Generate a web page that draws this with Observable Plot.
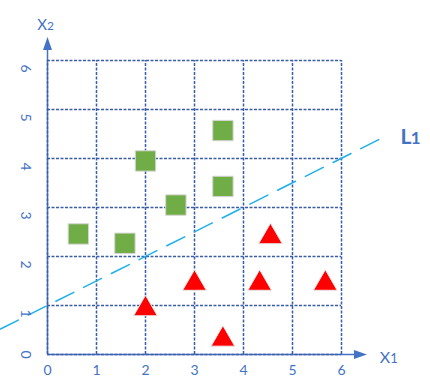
<!DOCTYPE html>
<html><head><meta charset="utf-8">
<script src="https://cdn.jsdelivr.net/npm/d3@7"></script>
<script src="https://cdn.jsdelivr.net/npm/@observablehq/plot@0.6"></script>
<style>html,body{margin:0;padding:0;background:#fff}</style>
</head><body><div id="chart"></div>
<script>
// ---- data ----
const ticks = [0, 1, 2, 3, 4, 5, 6];
const tickLabels = ["0", "1", "2", "3", "4", "5", "6"];
const squaresX = [0.63, 1.58, 2.0, 2.62, 3.58, 3.58];
const squaresY = [2.46, 2.27, 3.95, 3.05, 3.43, 4.57];
const trianglesX = [2.0, 3.0, 4.33, 5.67, 4.55, 3.58];
const trianglesY = [0.93, 1.45, 1.45, 1.45, 2.40, 0.31];
const lineL1X = [-0.96, 6.93];
const lineL1Y = [0.52, 4.47];
const axisTipX = 6.52; // end of x1 axis arrow
const axisTipY = 6.48; // end of x2 axis arrow

const tickData = ticks.map((v, i) => ({v, label: tickLabels[i]}));
const squares = squaresX.map((x, i) => ({x, y: squaresY[i]}));
const triangles = trianglesX.map((x, i) => ({x, y: trianglesY[i]}));
const l1 = lineL1X.map((x, i) => ({x, y: lineL1Y[i]}));

const blue = "#4472C4";
const gridColor = "#3A5DA8";
const font = "Lato, 'Open Sans', sans-serif";

// arrowhead symbol: tip at origin, pointing up
const arrowHead = {
  draw(ctx) {
    ctx.moveTo(0, 0);
    ctx.lineTo(-4.5, 13);
    ctx.lineTo(4.5, 13);
    ctx.closePath();
  }
};

const chart = Plot.plot({
  width: 430,
  height: 388,
  margin: 0,
  style: {background: "white", fontFamily: font},
  x: {domain: [-47 / 49, 383 / 49], range: [0, 430], axis: null},
  y: {domain: [-34 / 49, 354 / 49], range: [388, 0], axis: null},
  marks: [
    // axis lines
    Plot.ruleX([0], {y1: 0, y2: axisTipY - 0.1, stroke: blue, strokeWidth: 1.5}),
    Plot.ruleY([0], {x1: 0, x2: axisTipX - 0.1, stroke: blue, strokeWidth: 1.5}),
    // dashed grid
    Plot.ruleX(ticks, {y1: 0, y2: 6, stroke: gridColor, strokeWidth: 1.5, strokeDasharray: "3,1.5"}),
    Plot.ruleY(ticks, {x1: 0, x2: 6, stroke: gridColor, strokeWidth: 1.5, strokeDasharray: "3,1.5"}),
    // arrowheads
    Plot.dot([{x: 0, y: axisTipY}], {x: "x", y: "y", symbol: arrowHead, r: 5, fill: blue, stroke: "none", rotate: 0}),
    Plot.dot([{x: axisTipX, y: 0}], {x: "x", y: "y", symbol: arrowHead, r: 5, fill: blue, stroke: "none", rotate: 90}),
    // L1 line
    Plot.line(l1, {x: "x", y: "y", stroke: "#1CB0EC", strokeWidth: 1.5, strokeDasharray: "20,11"}),
    // points
    Plot.dot(squares, {x: "x", y: "y", symbol: "square", r: 11.5, fill: "#70AD47", stroke: "#D6D6D6", strokeWidth: 1}),
    Plot.dot(triangles, {x: "x", y: "y", symbol: "triangle", r: 8.8, fill: "#FF0000", stroke: "#EAEAEA", strokeWidth: 1}),
    // tick labels
    Plot.text(tickData, {x: "v", y: 0, dy: 16, text: "label", fill: blue, fontSize: 14}),
    Plot.text(tickData.filter(d => d.v > 0), {x: 0, y: "v", dx: -22, dy: 8, rotate: 90, text: "label", fill: blue, fontSize: 14}),
    Plot.text(tickData.filter(d => d.v === 0), {x: 0, y: "v", dx: -22, dy: 0, rotate: 90, text: "label", fill: blue, fontSize: 14}),
    // axis titles
    Plot.text(["X"], {x: axisTipX, y: 0, dx: 18, dy: 3, text: d => d, fill: blue, fontSize: 16}),
    Plot.text(["1"], {x: axisTipX, y: 0, dx: 27, dy: 4.5, text: d => d, fill: blue, fontSize: 13}),
    Plot.text(["X"], {x: 0, y: axisTipY, dx: -5.5, dy: -12, text: d => d, fill: blue, fontSize: 15}),
    Plot.text(["2"], {x: 0, y: axisTipY, dx: 3, dy: -11, text: d => d, fill: blue, fontSize: 12}),
    // L1 label
    Plot.text(["L"], {x: lineL1X[1], y: lineL1Y[1], dx: 19, dy: 1.5, text: d => d, fill: blue, fontSize: 21, fontWeight: "bold"}),
    Plot.text(["1"], {x: lineL1X[1], y: lineL1Y[1], dx: 28.5, dy: 3, text: d => d, fill: blue, fontSize: 17, fontWeight: "bold"})
  ]
});
document.getElementById("chart").appendChild(chart);
</script>
</body></html>
